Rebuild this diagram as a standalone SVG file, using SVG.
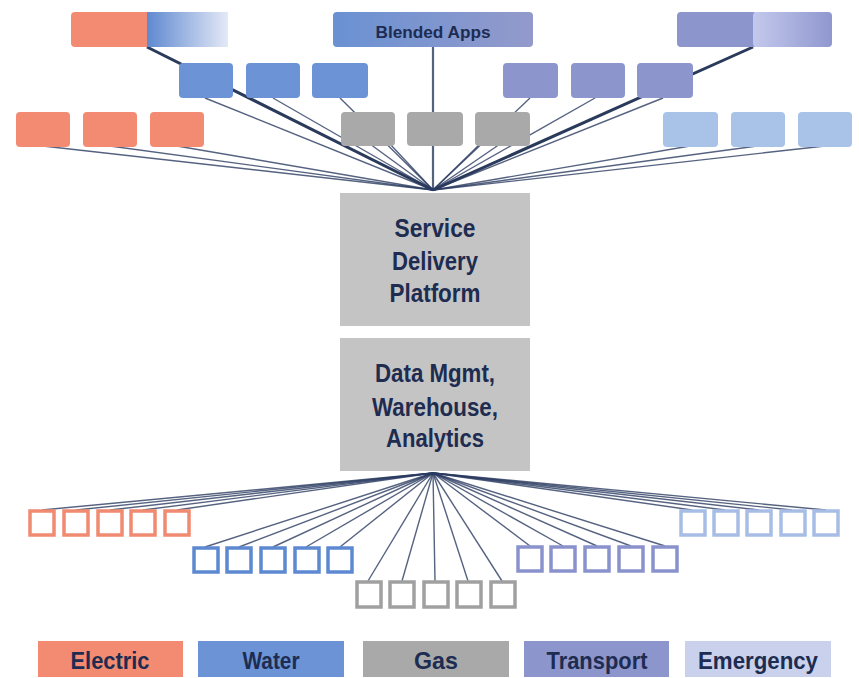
<svg xmlns="http://www.w3.org/2000/svg" width="859" height="678" viewBox="0 0 859 678">
<defs>
<linearGradient id="gL" x1="0" x2="1" y1="0" y2="0"><stop offset="0" stop-color="#5f89d0"/><stop offset="1" stop-color="#e4e9f6"/></linearGradient>
<linearGradient id="gR" x1="0" x2="1" y1="0" y2="0"><stop offset="0" stop-color="#c3c9ec"/><stop offset="1" stop-color="#8f97cf"/></linearGradient>
<linearGradient id="gB" x1="0" x2="1" y1="0" y2="0"><stop offset="0" stop-color="#6a91d3"/><stop offset="1" stop-color="#939acb"/></linearGradient>
<style>
.el{fill:#f28b72}.wa{fill:#6b93d6}.ga{fill:#a9a9a9}.tr{fill:#8d95cd}.em{fill:#c9d1ec}.lb{fill:#a8c2e8}
.sq{fill:none;stroke-width:3.5}
.sel{stroke:#f08a70}.swa{stroke:#5d88d2}.sga{stroke:#a0a0a0}.str{stroke:#8a92cd}.sem{stroke:#a8bde6}
.t{font-family:"Liberation Sans",Arial,sans-serif;font-weight:bold;fill:#1d2c50;text-anchor:middle}
.ln{stroke:#2a3b60;stroke-width:1.4;stroke-opacity:0.8;fill:none}
.thick{stroke:#1f2f52;stroke-width:3;stroke-opacity:0.95}
</style>
</defs>
<rect width="859" height="678" fill="#ffffff"/>
<g id="connectors">
<line class="ln thick" x1="147" y1="47" x2="433" y2="190"/>
<line class="ln thick" x1="753" y1="47" x2="433" y2="190"/>
<line class="ln" style="stroke-width:2.2" x1="433" y1="47" x2="433" y2="190"/>
<line class="ln" x1="205" y1="98" x2="433" y2="190"/>
<line class="ln" x1="273" y1="98" x2="433" y2="190"/>
<line class="ln" x1="340" y1="98" x2="433" y2="190"/>
<line class="ln" x1="530" y1="98" x2="433" y2="190"/>
<line class="ln" x1="595" y1="98" x2="433" y2="190"/>
<line class="ln" x1="663" y1="98" x2="433" y2="190"/>
<line class="ln" x1="43" y1="146" x2="433" y2="190"/>
<line class="ln" x1="110" y1="146" x2="433" y2="190"/>
<line class="ln" x1="177" y1="146" x2="433" y2="190"/>
<line class="ln" x1="370" y1="144" x2="433" y2="190"/>
<line class="ln" x1="390" y1="144" x2="433" y2="190"/>
<line class="ln" x1="480" y1="144" x2="433" y2="190"/>
<line class="ln" x1="500" y1="144" x2="433" y2="190"/>
<line class="ln" x1="690" y1="146" x2="433" y2="190"/>
<line class="ln" x1="757" y1="146" x2="433" y2="190"/>
<line class="ln" x1="825" y1="146" x2="433" y2="190"/>
<line class="ln" x1="433" y1="473" x2="42" y2="510"/>
<line class="ln" x1="433" y1="473" x2="76" y2="510"/>
<line class="ln" x1="433" y1="473" x2="110" y2="510"/>
<line class="ln" x1="433" y1="473" x2="143" y2="510"/>
<line class="ln" x1="433" y1="473" x2="177" y2="510"/>
<line class="ln" x1="433" y1="473" x2="205" y2="547"/>
<line class="ln" x1="433" y1="473" x2="239" y2="547"/>
<line class="ln" x1="433" y1="473" x2="273" y2="547"/>
<line class="ln" x1="433" y1="473" x2="306" y2="547"/>
<line class="ln" x1="433" y1="473" x2="340" y2="547"/>
<line class="ln" x1="433" y1="473" x2="368" y2="581"/>
<line class="ln" x1="433" y1="473" x2="402" y2="581"/>
<line class="ln" x1="433" y1="473" x2="435" y2="581"/>
<line class="ln" x1="433" y1="473" x2="468" y2="581"/>
<line class="ln" x1="433" y1="473" x2="502" y2="581"/>
<line class="ln" x1="433" y1="473" x2="530" y2="546"/>
<line class="ln" x1="433" y1="473" x2="563" y2="546"/>
<line class="ln" x1="433" y1="473" x2="597" y2="546"/>
<line class="ln" x1="433" y1="473" x2="631" y2="546"/>
<line class="ln" x1="433" y1="473" x2="665" y2="546"/>
<line class="ln" x1="433" y1="473" x2="692" y2="510"/>
<line class="ln" x1="433" y1="473" x2="725" y2="510"/>
<line class="ln" x1="433" y1="473" x2="759" y2="510"/>
<line class="ln" x1="433" y1="473" x2="792" y2="510"/>
<line class="ln" x1="433" y1="473" x2="826" y2="510"/>
</g>
<g id="top-left-combo">
<rect x="71" y="12" width="80" height="35" rx="4" class="el"/>
<rect x="147" y="12" width="81" height="35" fill="url(#gL)"/>
</g>
<g id="blended-apps">
<rect x="333" y="12" width="200" height="35" rx="4" fill="url(#gB)"/>
<text class="t" x="433" y="38" font-size="16" textLength="115" lengthAdjust="spacingAndGlyphs">Blended Apps</text>
</g>
<g id="top-right-combo">
<rect x="677" y="12" width="80" height="35" rx="4" class="tr"/>
<rect x="753" y="12" width="79" height="35" rx="4" fill="url(#gR)"/>
</g>
<g id="row2-water">
<rect x="179" y="63" width="54" height="35" rx="4" class="wa"/>
<rect x="246" y="63" width="54" height="35" rx="4" class="wa"/>
<rect x="312" y="63" width="56" height="35" rx="4" class="wa"/>
</g>
<g id="row2-transport">
<rect x="503" y="63" width="55" height="35" rx="4" class="tr"/>
<rect x="571" y="63" width="54" height="35" rx="4" class="tr"/>
<rect x="637" y="63" width="56" height="35" rx="4" class="tr"/>
</g>
<g id="row3-electric">
<rect x="16" y="112" width="54" height="35" rx="4" class="el"/>
<rect x="83" y="112" width="54" height="35" rx="4" class="el"/>
<rect x="150" y="112" width="54" height="35" rx="4" class="el"/>
</g>
<g id="row3-gas">
<rect x="341" y="112" width="54" height="34" rx="4" class="ga"/>
<rect x="407" y="112" width="56" height="34" rx="4" class="ga"/>
<rect x="475" y="112" width="55" height="34" rx="4" class="ga"/>
</g>
<g id="row3-emergency">
<rect x="663" y="112" width="55" height="35" rx="4" class="lb"/>
<rect x="731" y="112" width="54" height="35" rx="4" class="lb"/>
<rect x="798" y="112" width="54" height="35" rx="4" class="lb"/>
</g>
<g id="service-delivery-platform">
<rect x="340" y="193" width="190" height="133" fill="#c4c4c4"/>
<text class="t" font-size="25"><tspan x="435" y="237" textLength="81" lengthAdjust="spacingAndGlyphs">Service</tspan><tspan x="435" y="270" textLength="86" lengthAdjust="spacingAndGlyphs">Delivery</tspan><tspan x="435" y="302" textLength="91" lengthAdjust="spacingAndGlyphs">Platform</tspan></text>
</g>
<g id="data-mgmt">
<rect x="340" y="338" width="190" height="133" fill="#c4c4c4"/>
<text class="t" font-size="25"><tspan x="435" y="382" textLength="120" lengthAdjust="spacingAndGlyphs">Data Mgmt,</tspan><tspan x="435" y="416" textLength="126" lengthAdjust="spacingAndGlyphs">Warehouse,</tspan><tspan x="435" y="447" textLength="98" lengthAdjust="spacingAndGlyphs">Analytics</tspan></text>
</g>
<g id="bottom-electric">
<rect x="30" y="511" width="24" height="24" class="sq sel"/>
<rect x="64" y="511" width="24" height="24" class="sq sel"/>
<rect x="98" y="511" width="24" height="24" class="sq sel"/>
<rect x="131" y="511" width="24" height="24" class="sq sel"/>
<rect x="165" y="511" width="24" height="24" class="sq sel"/>
</g>
<g id="bottom-water">
<rect x="194" y="548" width="24" height="24" class="sq swa"/>
<rect x="227" y="548" width="24" height="24" class="sq swa"/>
<rect x="261" y="548" width="24" height="24" class="sq swa"/>
<rect x="295" y="548" width="24" height="24" class="sq swa"/>
<rect x="328" y="548" width="24" height="24" class="sq swa"/>
</g>
<g id="bottom-gas">
<rect x="357" y="582" width="24" height="25" class="sq sga"/>
<rect x="390" y="582" width="24" height="25" class="sq sga"/>
<rect x="424" y="582" width="24" height="25" class="sq sga"/>
<rect x="457" y="582" width="24" height="25" class="sq sga"/>
<rect x="491" y="582" width="24" height="25" class="sq sga"/>
</g>
<g id="bottom-transport">
<rect x="518" y="547" width="24" height="24" class="sq str"/>
<rect x="551" y="547" width="24" height="24" class="sq str"/>
<rect x="585" y="547" width="24" height="24" class="sq str"/>
<rect x="619" y="547" width="24" height="24" class="sq str"/>
<rect x="653" y="547" width="24" height="24" class="sq str"/>
</g>
<g id="bottom-emergency">
<rect x="681" y="511" width="24" height="24" class="sq sem"/>
<rect x="714" y="511" width="24" height="24" class="sq sem"/>
<rect x="747" y="511" width="24" height="24" class="sq sem"/>
<rect x="781" y="511" width="24" height="24" class="sq sem"/>
<rect x="814" y="511" width="24" height="24" class="sq sem"/>
</g>
<g id="legend-electric">
<rect x="38" y="641" width="145" height="36" class="el"/>
<text class="t" x="110" y="669" font-size="24" textLength="79" lengthAdjust="spacingAndGlyphs">Electric</text>
</g>
<g id="legend-water">
<rect x="198" y="641" width="146" height="36" class="wa"/>
<text class="t" x="271" y="669" font-size="24" textLength="57" lengthAdjust="spacingAndGlyphs">Water</text>
</g>
<g id="legend-gas">
<rect x="363" y="641" width="146" height="36" class="ga"/>
<text class="t" x="436" y="669" font-size="24" textLength="44" lengthAdjust="spacingAndGlyphs">Gas</text>
</g>
<g id="legend-transport">
<rect x="524" y="641" width="145" height="36" class="tr"/>
<text class="t" x="597" y="669" font-size="24" textLength="101" lengthAdjust="spacingAndGlyphs">Transport</text>
</g>
<g id="legend-emergency">
<rect x="685" y="641" width="146" height="36" class="em"/>
<text class="t" x="758" y="669" font-size="24" textLength="120" lengthAdjust="spacingAndGlyphs">Emergency</text>
</g>
</svg>
